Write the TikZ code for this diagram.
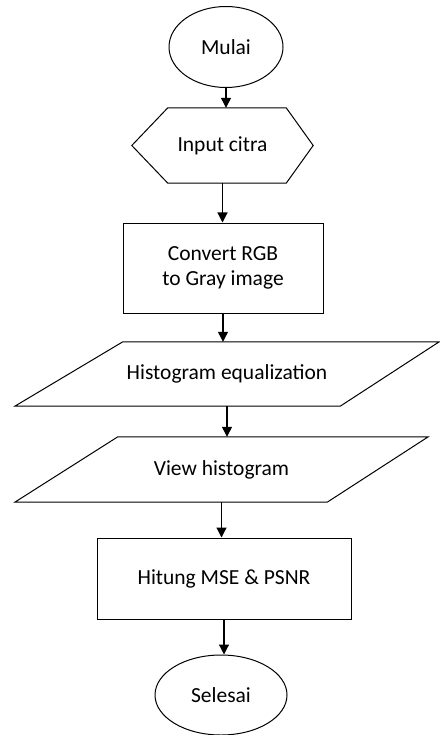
\documentclass[tikz,border=0pt]{standalone}
\usepackage{fontspec}
\setmainfont{Carlito}
\usetikzlibrary{shapes.geometric,arrows.meta}

\begin{document}
\begin{tikzpicture}[x=1pt,y=-1pt]
	\tikzstyle{every node}=[font=\fontsize{21.5}{25}\selectfont,inner sep=0pt,align=center]
	\tikzstyle{terminal}=[draw,ellipse,line width=1pt]
	\tikzstyle{process}=[draw,rectangle,line width=1pt]
	\tikzstyle{io}=[rectangle]
	\tikzstyle{outline}=[line width=1pt]
	\tikzstyle{flow}=[line width=1.2pt,-{Triangle[width=10pt,length=10pt]}]
	\useasboundingbox (0,0) rectangle (439,735);
	\node[terminal,minimum width=114,minimum height=81] (mulai) at (226,47) {Mulai};
	\node[io,minimum width=181,minimum height=75] (input) at (222.5,145.5) {Input citra};
	\draw[outline] (input.west) -- ([xshift=36]input.north west) -- ([xshift=-27]input.north east)
		-- (input.east) -- ([xshift=-27]input.south east) -- ([xshift=36]input.south west) -- cycle;
	\node[process,minimum width=200,minimum height=90] (convert) at (223,268) {Convert RGB\\to Gray image};
	\node[io,minimum width=424,minimum height=64] (histeq) at (227,374) {Histogram equalization};
	\draw[outline] ([xshift=108]histeq.north west) -- (histeq.north east)
		-- ([xshift=-99]histeq.south east) -- (histeq.south west) -- cycle;
	\node[io,minimum width=413,minimum height=65] (view) at (221.5,469.5) {View histogram};
	\draw[outline] ([xshift=103]view.north west) -- (view.north east)
		-- ([xshift=-101]view.south east) -- (view.south west) -- cycle;
	\node[process,minimum width=254,minimum height=81] (hitung) at (224,578.5) {Hitung MSE \& PSNR};
	\node[terminal,minimum width=132,minimum height=80] (selesai) at (221,695) {Selesai};
	% alur
	\draw[flow] (mulai.south) -- (mulai.south |- input.north);
	\draw[flow] (input.south) -- (input.south |- convert.north);
	\draw[flow] (convert.south) -- (convert.south |- histeq.north);
	\draw[flow] (histeq.south) -- (histeq.south |- view.north);
	\draw[flow] (view.south) -- (view.south |- hitung.north);
	\draw[flow] (hitung.south) -- (hitung.south |- selesai.north);
\end{tikzpicture}
\end{document}
